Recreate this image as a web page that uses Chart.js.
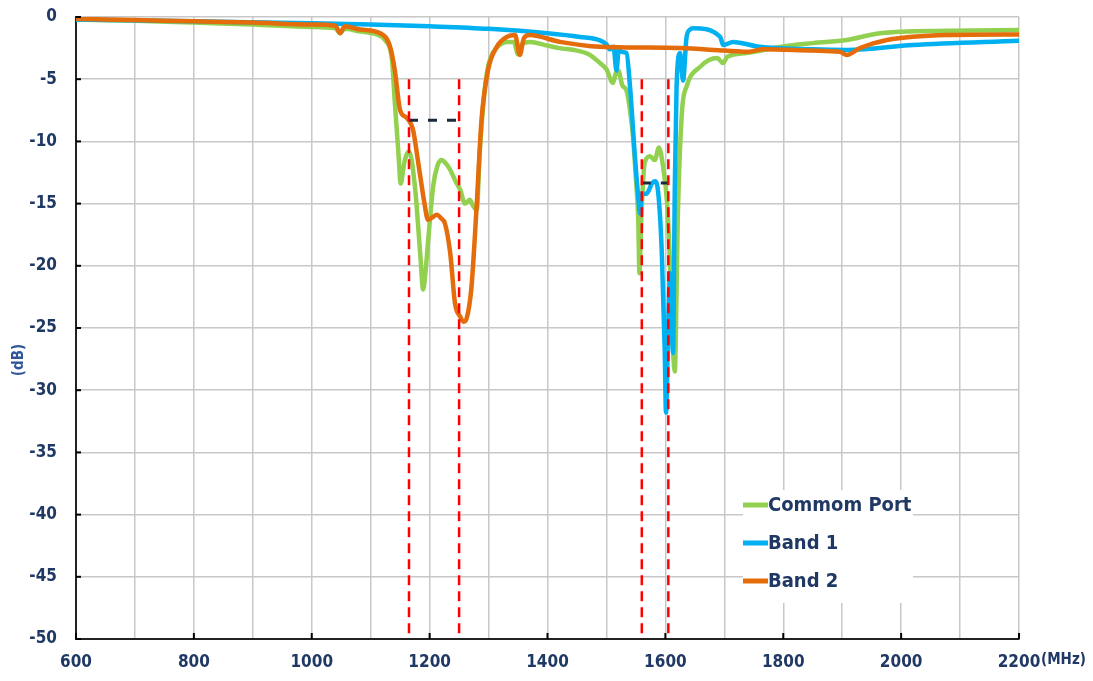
<!DOCTYPE html>
<html>
<head>
<meta charset="utf-8">
<script src="https://cdn.jsdelivr.net/npm/chart.js@4.4.1/dist/chart.umd.min.js"></script>
<style>
  html, body { margin: 0; padding: 0; background: #fff; }
  #wrap { width: 1093px; height: 681px; }
</style>
</head>
<body>
<div id="wrap"><canvas id="chart" width="1093" height="681"></canvas></div>
<script>
// ---- data (MHz / dB) ----
const freqCommon = [600, 700, 800, 900, 1000, 1040, 1048, 1056, 1080, 1110, 1125, 1136, 1141, 1147, 1151, 1155, 1158, 1165, 1175, 1184, 1189, 1193, 1198, 1206, 1213, 1220, 1228, 1235, 1245, 1252, 1260, 1268, 1274, 1280, 1285, 1294, 1300, 1307, 1320, 1331, 1343, 1350, 1356, 1370, 1400, 1420, 1450, 1470, 1489, 1500, 1511, 1516, 1520, 1527, 1534, 1540, 1545, 1550, 1554, 1556, 1559, 1565, 1574, 1582, 1589, 1596, 1603, 1608, 1611, 1616, 1619, 1621, 1628, 1636, 1659, 1688, 1698, 1705, 1738, 1794, 1850, 1908, 1964, 2078, 2200];
const dbCommon   = [-0.2, -0.3, -0.45, -0.6, -0.8, -0.9, -1.3, -0.95, -1.15, -1.4, -1.9, -3.4, -6.9, -10.9, -13.4, -12.3, -11.5, -10.8, -13.6, -19, -21.9, -20.5, -17.7, -13.6, -12.0, -11.5, -11.8, -12.3, -13.3, -13.9, -15, -14.7, -15.2, -15.5, -10.9, -5.6, -3.8, -2.9, -2.2, -2.0, -2.0, -3.0, -2.2, -2.0, -2.3, -2.5, -2.7, -3.0, -3.7, -4.2, -5.3, -4.5, -4.3, -5.5, -5.9, -7.5, -9.6, -13, -16.3, -20.6, -16.3, -11.7, -11.2, -11.5, -10.5, -12, -15, -20, -24.4, -28.5, -22, -16.3, -7.7, -5.6, -4.0, -3.3, -3.7, -3.2, -2.9, -2.4, -2.1, -1.85, -1.3, -1.1, -1.05];

const freqBand1 = [600, 800, 1000, 1100, 1200, 1300, 1400, 1455, 1490, 1500, 1506, 1512, 1517, 1521, 1526, 1534, 1540, 1548, 1554, 1557, 1560, 1568, 1577, 1582, 1588, 1594, 1599, 1601, 1605, 1608, 1613, 1616, 1619, 1625, 1630, 1636, 1642, 1647, 1693, 1698, 1715, 1760, 1850, 1908, 2020, 2200];
const dbBand1   = [-0.2, -0.35, -0.5, -0.6, -0.75, -0.95, -1.3, -1.6, -1.9, -2.2, -2.6, -2.4, -4.3, -2.6, -2.8, -2.9, -5.6, -11, -14.5, -15.8, -14.2, -14.2, -13.4, -13.2, -14.2, -19, -27, -31.8, -24.4, -20.6, -27, -13.6, -5.6, -2.9, -5.1, -1.6, -1.0, -0.9, -1.6, -2.25, -2.0, -2.4, -2.6, -2.65, -2.25, -1.9];

const freqBand2 = [600, 700, 800, 900, 1000, 1040, 1048, 1056, 1082, 1116, 1133, 1141, 1150, 1161, 1172, 1180, 1192, 1197, 1205, 1212, 1220, 1226, 1235, 1243, 1252, 1258, 1263, 1271, 1280, 1288, 1299, 1314, 1331, 1345, 1353, 1360, 1370, 1421, 1489, 1550, 1625, 1700, 1738, 1766, 1850, 1896, 1908, 1930, 1976, 2078, 2200];
const dbBand2   = [-0.15, -0.25, -0.35, -0.45, -0.6, -0.7, -1.3, -0.75, -1.0, -1.3, -2.4, -4.3, -7.5, -8.1, -9.1, -11.5, -15.2, -16.3, -16.1, -15.9, -16.2, -16.6, -19, -23, -24.1, -24.5, -24.2, -21.7, -15, -8.3, -4.3, -2.4, -1.6, -1.45, -3.05, -1.7, -1.45, -2.0, -2.4, -2.45, -2.5, -2.7, -2.8, -2.6, -2.7, -2.8, -3.05, -2.5, -1.85, -1.45, -1.4];

// band edge markers (red dashed) and level markers (dark dashed)
const markerFreqs = [1165, 1250, 1560, 1605];
const markerTop = -5, markerBottom = -50;
const levelFrom = [1165, 1560];
const levelTo   = [1250, 1605];
const levelDb   = [-8.3, -13.35];

const seriesNames  = ['Commom Port', 'Band 1', 'Band 2'];
const seriesColors = ['#92d050', '#00b0f0', '#e46c0a'];

const xMin = 600, xMax = 2200, yMin = -50, yMax = 0;

// ---- build datasets ----
const toPts = (xs, ys) => xs.map((x, i) => ({ x, y: ys[i] }));
const curves = [[freqCommon, dbCommon], [freqBand1, dbBand1], [freqBand2, dbBand2]];
const datasets = curves.map(([xs, ys], i) => ({
    label: seriesNames[i],
    data: toPts(xs, ys),
    borderColor: seriesColors[i],
    borderWidth: 4.5,
    pointRadius: 0,
    cubicInterpolationMode: 'monotone',
    order: 3 - i
}));

markerFreqs.forEach(f => datasets.push({
    label: '_marker', data: [{ x: f, y: markerTop }, { x: f, y: markerBottom }],
    borderColor: '#ff0000', borderWidth: 2.5, borderDash: [10, 6], pointRadius: 0, order: 0
}));
levelDb.forEach((d, i) => datasets.push({
    label: '_level', data: [{ x: levelFrom[i], y: d }, { x: levelTo[i], y: d }],
    borderColor: '#1b2a3a', borderWidth: 3, borderDash: [9, 10], pointRadius: 0, order: 0
}));

const FONT = "'Liberation Sans Narrow', 'Arial Narrow', 'DejaVu Sans Condensed', sans-serif";
const NAVY = '#1f3864';

// ---- extras: inside ticks, axis captions, legend ----
const overlay = {
    id: 'overlay',
    afterDraw(chart) {
        const { ctx, chartArea: a, scales: { x, y } } = chart;
        ctx.save();
        // small inward tick marks
        ctx.strokeStyle = '#000'; ctx.lineWidth = 2;
        y.ticks.forEach(t => {
            const py = y.getPixelForValue(t.value);
            ctx.beginPath(); ctx.moveTo(a.left, py); ctx.lineTo(a.left + 5, py); ctx.stroke();
        });
        x.ticks.forEach(t => {
            if (t.value % 200) return;
            const px = x.getPixelForValue(t.value);
            ctx.beginPath(); ctx.moveTo(px, a.bottom); ctx.lineTo(px, a.bottom - 6); ctx.stroke();
        });

        // axis captions
        ctx.fillStyle = NAVY;
        ctx.font = 'bold 15px ' + FONT;
        ctx.textAlign = 'left'; ctx.textBaseline = 'middle';
        ctx.fillText('(MHz)', a.right + 22, a.bottom + 21);
        ctx.save();
        ctx.translate(19, 360); ctx.rotate(-Math.PI / 2);
        ctx.textAlign = 'center';
        ctx.fillStyle = '#2f5597';
        ctx.fillText('(dB)', 0, 0);
        ctx.restore();

        // legend box
        const bx = a.right - 276, by = a.bottom - 149;
        ctx.fillStyle = '#fff';
        ctx.fillRect(bx, by, 170, 113);
        ctx.font = 'bold 20px ' + FONT;
        seriesNames.forEach((name, i) => {
            const ly = by + 15 + i * 38;
            ctx.strokeStyle = seriesColors[i]; ctx.lineWidth = 5;
            ctx.beginPath(); ctx.moveTo(bx, ly); ctx.lineTo(bx + 25, ly); ctx.stroke();
            ctx.fillStyle = NAVY;
            ctx.fillText(name, bx + 25, ly + 1);
        });
        ctx.restore();
    }
};

new Chart(document.getElementById('chart'), {
    type: 'line',
    data: { datasets },
    options: {
        responsive: false,
        animation: false,
        layout: { padding: { top: 17, right: 74, left: 0, bottom: 0 } },
        plugins: { legend: { display: false }, tooltip: { enabled: false } },
        scales: {
            x: {
                type: 'linear', min: xMin, max: xMax,
                afterFit: s => { s.height = 42; },
                ticks: {
                    stepSize: 100, padding: 13, color: NAVY, maxRotation: 0, autoSkip: false,
                    font: { family: FONT, size: 17, weight: 'bold' },
                    callback: v => (v % 200 === 0 ? String(v) : '')
                },
                grid: { color: '#c8c8c8', lineWidth: 1.5, drawTicks: false },
                border: { color: '#222', width: 2 }
            },
            y: {
                min: yMin, max: yMax,
                // fixed axis width; drop the label overflow padding so the plot top sits at 17px
                afterFit: s => { s.width = 76; s.paddingTop = 0; s.paddingBottom = 0; },
                ticks: {
                    stepSize: 5, padding: 19, color: NAVY,
                    font: { family: FONT, size: 17, weight: 'bold' }
                },
                grid: { color: '#c8c8c8', lineWidth: 1.5, drawTicks: false },
                border: { color: '#222', width: 2 }
            }
        }
    },
    plugins: [overlay]
});
</script>
</body>
</html>
